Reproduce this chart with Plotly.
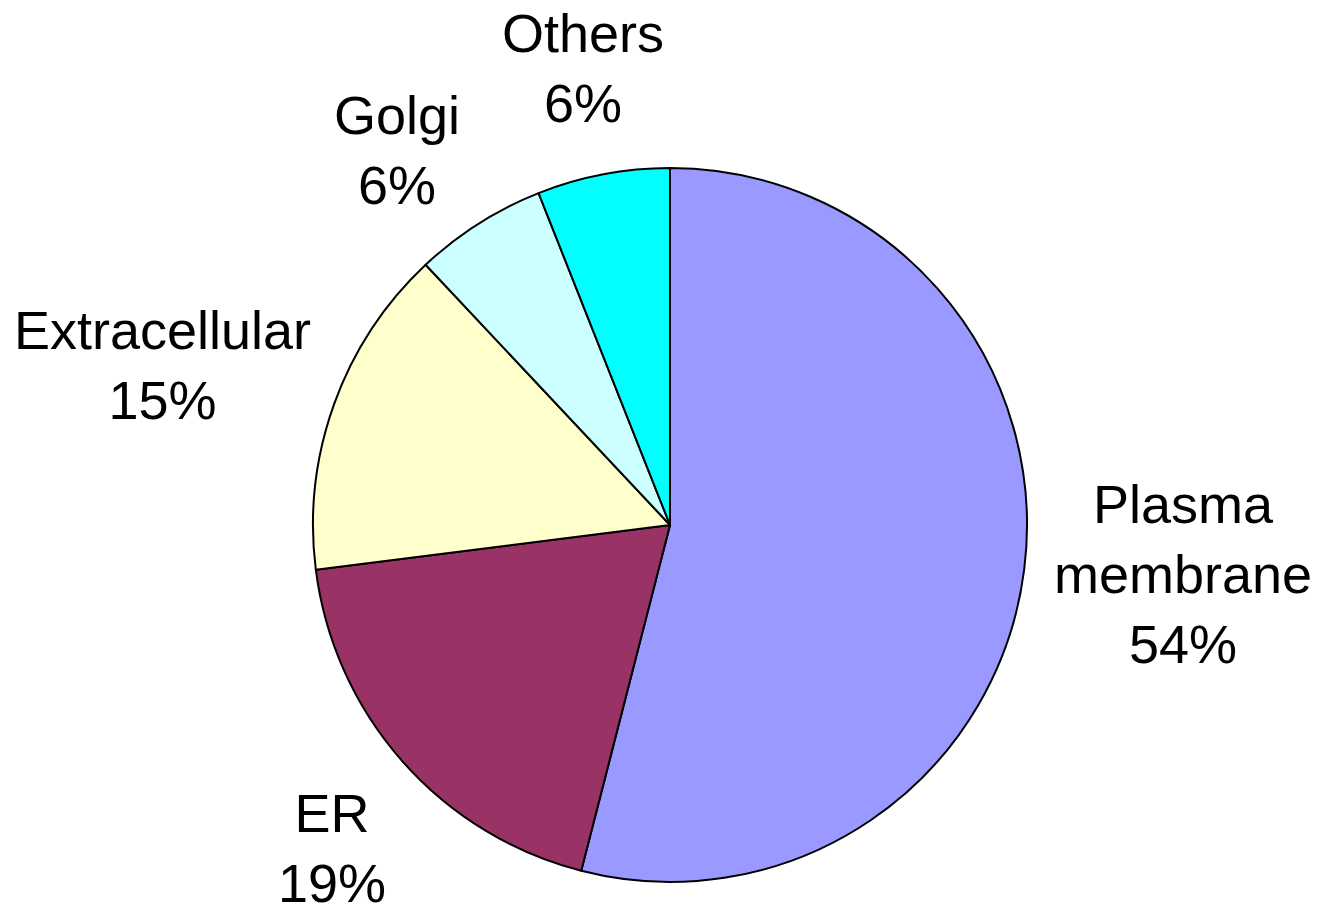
import plotly.graph_objects as go

labels = ["Plasma membrane", "ER", "Extracellular", "Golgi", "Others"]
label_lines = ["Plasma<br>membrane", "ER", "Extracellular", "Golgi", "Others"]
values = [54, 19, 15, 6, 6]
colors = ["#9999FF", "#993366", "#FFFFCC", "#CCFFFF", "#00FFFF"]

# label block positions (paper coords)
label_x = [1183 / 1337, 332 / 1337, 162 / 1337, 397 / 1337, 583 / 1337]
label_y = [1 - 574 / 912, 1 - 848 / 912, 1 - 365 / 912, 1 - 150 / 912, 1 - 68 / 912]

W, H = 1337, 912
fig = go.Figure(go.Pie(
    labels=labels,
    values=values,
    sort=False,
    direction="clockwise",
    rotation=0,
    marker=dict(colors=colors, line=dict(color="#000000", width=2)),
    textinfo="none",
    hoverinfo="label+percent",
    showlegend=False,
    domain=dict(x=[313 / W, 1027 / W], y=[1 - 882 / H, 1 - 168 / H]),
))

total = sum(values)
for lab, v, x, y in zip(label_lines, values, label_x, label_y):
    fig.add_annotation(
        x=x, y=y, xref="paper", yref="paper",
        text=f"{lab}<br>{round(100 * v / total)}%",
        showarrow=False, xanchor="center", yanchor="middle",
        font=dict(family="Liberation Sans, Arial, sans-serif", size=54, color="#000000"),
        align="center",
    )

fig.update_layout(
    width=W, height=H,
    margin=dict(l=0, r=0, t=0, b=0),
    paper_bgcolor="#FFFFFF",
    plot_bgcolor="#FFFFFF",
)
fig.write_html("out.html")
